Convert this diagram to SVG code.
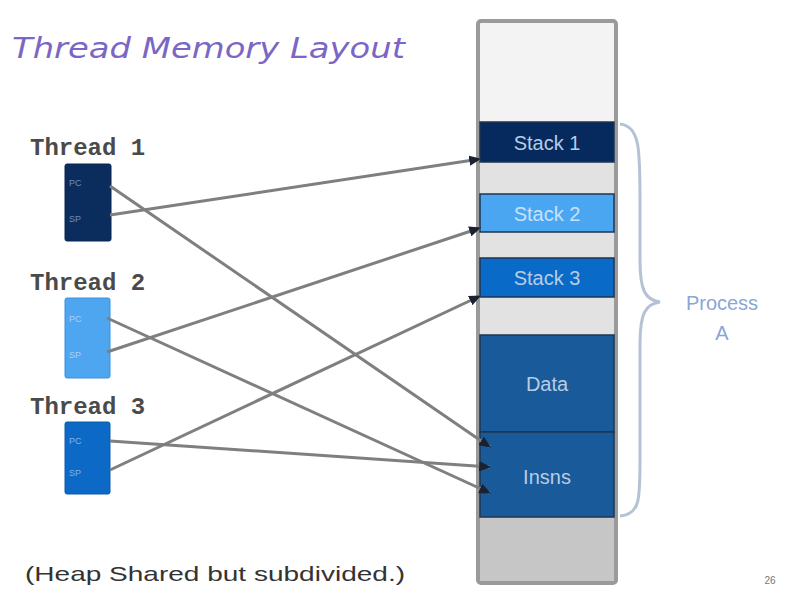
<svg xmlns="http://www.w3.org/2000/svg" width="792" height="612" viewBox="0 0 792 612">
<defs>
<style>
.lbl{font-family:"Liberation Mono","DejaVu Sans Mono",monospace;font-size:24px;fill:#4a4a4a;font-weight:bold;}
.seg{stroke:#1f3550;stroke-width:1.5;}
.segtxt{font-family:"Liberation Sans",Arial,sans-serif;font-size:20px;fill:#b8cce4;text-anchor:middle;}
.reg{font-family:"Liberation Sans",Arial,sans-serif;font-size:9px;fill:#6f8fb8;}
.conn{stroke:#7f7f7f;stroke-width:3;fill:none;marker-end:url(#ah);}
</style>
<marker id="ah" markerWidth="4" markerHeight="3.4" refX="3.6" refY="1.7" orient="auto" markerUnits="strokeWidth">
<path d="M0,0 L4,1.7 L0,3.4 Z" fill="#1a2230"/>
</marker>
</defs>
<rect width="792" height="612" fill="#ffffff"/>
<text x="12" y="58" font-family="'DejaVu Sans',Verdana,sans-serif" font-style="italic" font-size="28" fill="#7b66c6" textLength="393" lengthAdjust="spacingAndGlyphs">Thread Memory Layout</text>

<g id="thread1">
<text class="lbl" x="30" y="155">Thread  1</text>
<rect x="65" y="164" width="46" height="77" rx="2" fill="#0b2d5e" stroke="#0a2450" stroke-width="1"/>
<text class="reg" x="69" y="186">PC</text>
<text class="reg" x="69" y="222">SP</text>
</g>
<g id="thread2">
<text class="lbl" x="30" y="290">Thread  2</text>
<rect x="65" y="298" width="45" height="80" rx="2" fill="#4ea5f0" stroke="#3a8fdc" stroke-width="1"/>
<text class="reg" x="69" y="322" style="fill:#a8d2f8">PC</text>
<text class="reg" x="69" y="358" style="fill:#a8d2f8">SP</text>
</g>
<g id="thread3">
<text class="lbl" x="30" y="414">Thread  3</text>
<rect x="65" y="422" width="45" height="72" rx="2" fill="#0c6ac6" stroke="#0a5aac" stroke-width="1"/>
<text class="reg" x="69" y="444" style="fill:#7fb4e8">PC</text>
<text class="reg" x="69" y="476" style="fill:#7fb4e8">SP</text>
</g>

<g id="memory">
<rect x="478" y="21" width="138" height="562" rx="3" fill="#f3f3f3" stroke="#9a9a9a" stroke-width="4"/>
<rect x="480" y="162" width="134" height="34" fill="#e2e2e2"/>
<rect x="480" y="232" width="134" height="26" fill="#e2e2e2"/>
<rect x="480" y="297" width="134" height="38" fill="#e2e2e2"/>
<rect x="480" y="517" width="134" height="64" fill="#c6c6c6"/>
<g id="stack1"><rect class="seg" x="480" y="122" width="134" height="40" fill="#062a5e"/><text class="segtxt" x="547" y="150">Stack 1</text></g>
<g id="stack2"><rect class="seg" x="480" y="194" width="134" height="38" fill="#4ba6f2"/><text class="segtxt" x="547" y="221" style="fill:#c4e2fc">Stack 2</text></g>
<g id="stack3"><rect class="seg" x="480" y="258" width="134" height="39" fill="#0a6ac8"/><text class="segtxt" x="547" y="285">Stack 3</text></g>
<g id="data"><rect class="seg" x="480" y="335" width="134" height="97" fill="#185a9a"/><text class="segtxt" x="547" y="391">Data</text></g>
<g id="insns"><rect class="seg" x="480" y="432" width="134" height="85" fill="#185a9a"/><text class="segtxt" x="547" y="484">Insns</text></g>
</g>

<g id="connectors">
<line class="conn" x1="110" y1="215" x2="480" y2="159"/>
<line class="conn" x1="110" y1="186" x2="490" y2="447"/>
<line class="conn" x1="107" y1="352" x2="480" y2="228"/>
<line class="conn" x1="107" y1="318" x2="490" y2="493"/>
<line class="conn" x1="110" y1="441" x2="490" y2="467"/>
<line class="conn" x1="110" y1="470" x2="480" y2="296"/>
</g>

<g id="process">
<path d="M620,124 C640,126 640,150 640,200 L640,260 C640,290 645,300 660,302 C645,304 640,314 640,344 L640,460 C640,500 640,514 620,516" fill="none" stroke="#b4c2d6" stroke-width="3"/>
<text x="722" y="310" font-family="'Liberation Sans',Arial,sans-serif" font-size="20" fill="#8aa6d6" text-anchor="middle">Process</text>
<text x="722" y="340" font-family="'Liberation Sans',Arial,sans-serif" font-size="20" fill="#8aa6d6" text-anchor="middle">A</text>
</g>

<text x="25" y="581" font-family="'Liberation Sans',Arial,sans-serif" font-size="21" fill="#333" textLength="380" lengthAdjust="spacingAndGlyphs">(Heap Shared but subdivided.)</text>
<text x="770" y="584" font-family="'Liberation Sans',Arial,sans-serif" font-size="10" fill="#777" text-anchor="middle">26</text>
</svg>
